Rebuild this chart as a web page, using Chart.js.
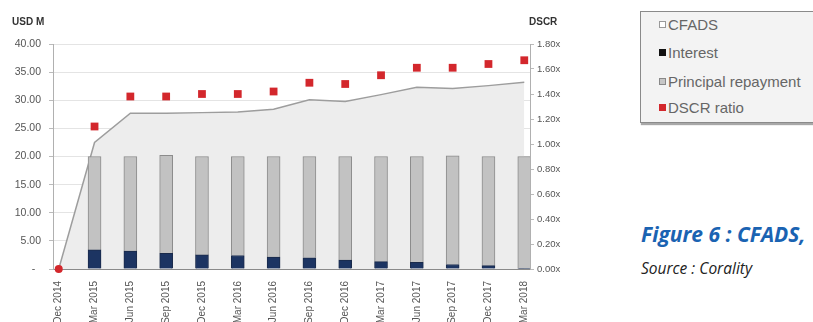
<!DOCTYPE html>
<html>
<head>
<meta charset="utf-8">
<script src="https://cdn.jsdelivr.net/npm/chart.js@4/dist/chart.umd.min.js"></script>
<style>
    body { margin: 0; background: #fff; width: 813px; height: 322px; overflow: hidden; position: relative; font-family: "Liberation Sans", Arial, sans-serif; }
    #wrap { position: absolute; left: 0; top: 0; width: 570px; height: 322px; }
    #legend { position: absolute; left: 640px; top: 11px; width: 185px; height: 110px; background: #f3f3f3; border: 1px solid #8a8a8a; box-shadow: 1px 2px 1px #a8a8a8; }
    #legend div { position: absolute; left: 18px; height: 16px; display: flex; align-items: center; font-size: 15px; color: #666; white-space: nowrap; }
    #legend span { display: inline-block; width: 7px; height: 7px; margin-right: 2px; box-sizing: border-box; }
    .caption { position: absolute; left: 641px; white-space: nowrap; line-height: 1; font-family: "Open Sans", sans-serif; font-style: italic; }
</style>
</head>
<body>
<div id="wrap"><canvas id="chart" width="570" height="322"></canvas></div>

<div id="legend">
    <div style="top:4.5px"><span style="background:#fff;border:1px solid #999"></span>CFADS</div>
    <div style="top:32.5px"><span style="background:#111"></span>Interest</div>
    <div style="top:61px"><span style="background:#c6c6c6;border:1px solid #888"></span>Principal repayment</div>
    <div style="top:87.5px"><span style="background:#d3272c"></span>DSCR ratio</div>
</div>
<div class="caption" style="top:224px;font-size:21px;font-weight:bold;color:#1a63b2">Figure 6 : CFADS,</div>
<div class="caption" style="top:261px;font-size:15.5px;color:#222">Source : Corality</div>

<script>
    // Trimestres
    const quarters = ['Dec 2014', 'Mar 2015', 'Jun 2015', 'Sep 2015', 'Dec 2015', 'Mar 2016', 'Jun 2016',
        'Sep 2016', 'Dec 2016', 'Mar 2017', 'Jun 2017', 'Sep 2017', 'Dec 2017', 'Mar 2018'];

    // USD M
    const cfads = [0, 22.5, 27.7, 27.7, 27.8, 27.9, 28.4, 30.1, 29.8, 31.0, 32.3, 32.1, 32.6, 33.2];
    const interest = [0, 3.4, 3.2, 2.8, 2.5, 2.4, 2.1, 2.0, 1.6, 1.3, 1.2, 0.8, 0.6, 0.1];
    const principal = [0, 16.6, 16.8, 17.4, 17.5, 17.6, 17.9, 18.0, 18.4, 18.7, 18.8, 19.3, 19.4, 19.9];

    // DSCR (x)
    const dscr = [0, 1.14, 1.38, 1.38, 1.40, 1.40, 1.42, 1.49, 1.48, 1.55, 1.61, 1.61, 1.64, 1.67];

    const usdTicks = [0, 5, 10, 15, 20, 25, 30, 35, 40];
    const dscrTicks = [0, 0.2, 0.4, 0.6, 0.8, 1.0, 1.2, 1.4, 1.6, 1.8];

    const toPoints = (arr) => arr.map((v, i) => ({ x: i, y: v }));

    // Titres des axes, au-dessus des graduations
    const axisTitles = {
        id: 'axisTitles',
        afterDraw(chart) {
            const ctx = chart.ctx;
            ctx.save();
            ctx.font = 'bold 10px "Liberation Sans", Arial, sans-serif';
            ctx.fillStyle = '#333';
            ctx.textBaseline = 'middle';
            ctx.fillText('USD M', 12, 22);
            ctx.fillText('DSCR', 529, 22);
            ctx.restore();
        }
    };

    const fontFamily = '"Liberation Sans", Arial, sans-serif';

    new Chart(document.getElementById('chart'), {
        data: {
            datasets: [{
                type: 'line',
                label: 'DSCR ratio',
                data: toPoints(dscr),
                yAxisID: 'y1',
                showLine: false,
                // le point à zéro apparaît rond
                pointStyle: (ctx) => ctx.dataIndex === 0 ? 'circle' : 'rect',
                pointRadius: (ctx) => ctx.dataIndex === 0 ? 4 : 5.5,
                pointBackgroundColor: '#d3272c',
                pointBorderWidth: 0,
                clip: false,
                order: 0
            }, {
                type: 'bar',
                label: 'Interest',
                data: toPoints(interest),
                yAxisID: 'y',
                stack: 'debt',
                backgroundColor: '#1c3462',
                borderColor: '#1a2a4a',
                borderWidth: 1,
                barThickness: 13,
                order: 1
            }, {
                type: 'bar',
                label: 'Principal repayment',
                data: toPoints(principal),
                yAxisID: 'y',
                stack: 'debt',
                backgroundColor: '#c2c2c2',
                borderColor: '#8c8c8c',
                borderWidth: 1,
                barThickness: 13,
                order: 1
            }, {
                type: 'line',
                label: 'CFADS',
                data: toPoints(cfads),
                yAxisID: 'y',
                fill: 'origin',
                backgroundColor: '#ededed',
                borderColor: '#9d9d9d',
                borderWidth: 1.5,
                pointRadius: 0,
                tension: 0,
                order: 2
            }]
        },
        options: {
            responsive: false,
            animation: false,
            layout: { padding: { top: 44 } },
            plugins: {
                legend: { display: false },
                tooltip: { enabled: false }
            },
            scales: {
                x: {
                    type: 'linear',
                    min: -0.16,
                    max: 13.16,
                    bounds: 'data',
                    offset: false,
                    stacked: true,
                    afterBuildTicks: (scale) => { scale.ticks = quarters.map((q, i) => ({ value: i })); },
                    grid: { display: false, offset: false },
                    border: { color: '#8a8a8a' },
                    ticks: {
                        autoSkip: false,
                        minRotation: 90,
                        maxRotation: 90,
                        padding: 4,
                        color: '#555',
                        font: { family: fontFamily, size: 10 },
                        callback: (v) => quarters[v]
                    },
                    afterFit: (scale) => {
                        scale.height = 53;
                        scale.paddingLeft = 0;
                        scale.paddingRight = 0;
                    }
                },
                y: {
                    position: 'left',
                    stacked: true,
                    min: 0,
                    max: 40,
                    afterBuildTicks: (scale) => { scale.ticks = usdTicks.map(v => ({ value: v })); },
                    grid: { color: '#e4e4e4', tickColor: '#bbb', tickLength: 4 },
                    border: { color: '#b0b0b0' },
                    ticks: {
                        padding: 8,
                        color: '#555',
                        font: { family: fontFamily, size: 10.5 },
                        callback: (v) => v === 0 ? '-  ' : v.toFixed(2)
                    },
                    afterFit: (scale) => { scale.width = 53; }
                },
                y1: {
                    position: 'right',
                    min: 0,
                    max: 1.8,
                    afterBuildTicks: (scale) => { scale.ticks = dscrTicks.map(v => ({ value: v })); },
                    grid: { drawOnChartArea: false, tickColor: '#bbb', tickLength: 4 },
                    border: { color: '#b0b0b0' },
                    ticks: {
                        padding: 3,
                        color: '#555',
                        font: { family: fontFamily, size: 9.5 },
                        callback: (v) => v.toFixed(2) + 'x'
                    },
                    afterFit: (scale) => { scale.width = 40; }
                }
            }
        },
        plugins: [axisTitles]
    });
</script>
</body>
</html>
